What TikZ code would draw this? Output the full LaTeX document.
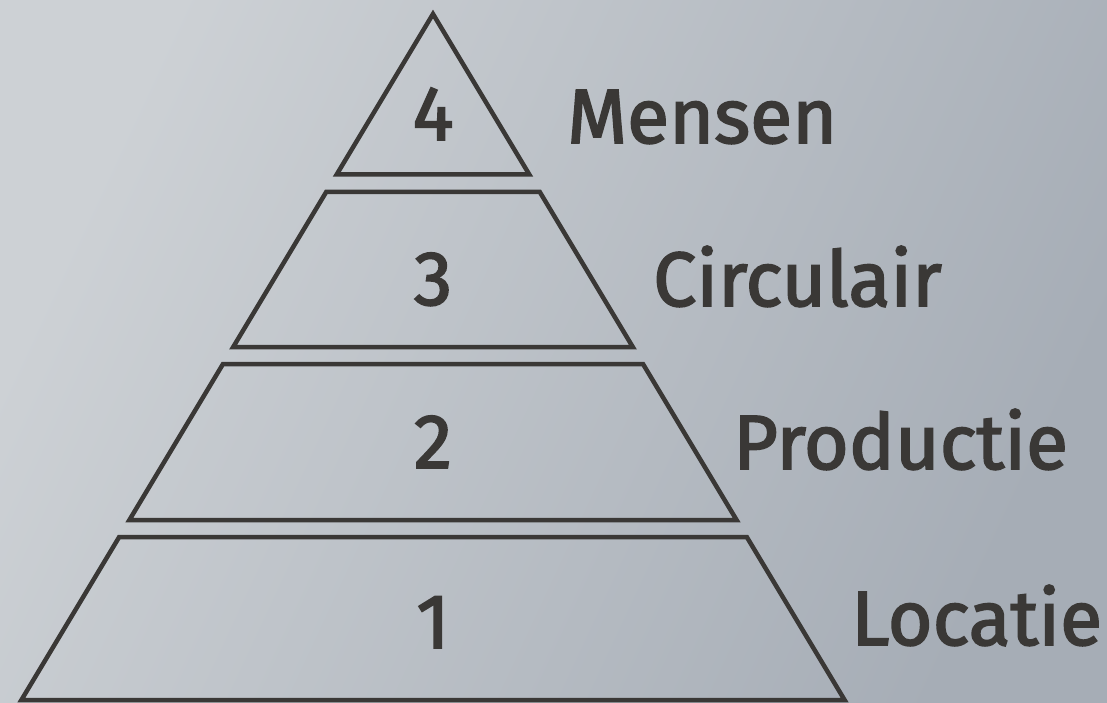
\documentclass[tikz,border=0pt]{standalone}
\usepackage{fontspec}
\setmainfont{Fira Sans}
\newfontfamily\tierfont{Fira Sans}[FakeBold=2.2]
\definecolor{ink}{HTML}{3A3836}
\definecolor{bglight}{HTML}{CDD1D5}
\definecolor{bgdark}{HTML}{A6ADB6}

\begin{document}
\begin{tikzpicture}[
    x=1pt, y=-1pt,
    slice/.style={draw=ink, line width=4.5pt, line join=miter},
    tiernum/.style={anchor=base, text=ink, inner sep=0pt, font=\tierfont\fontsize{77}{80}\selectfont},
    tiername/.style={anchor=base west, text=ink, inner sep=0pt, font=\tierfont\fontsize{77}{80}\selectfont}
]

% Background
\shade[top color=bglight, bottom color=bgdark, shading angle=65] (0,0) rectangle (1107,703);
\useasboundingbox (0,0) rectangle (1107,703);

% Top of the pyramid
\draw[slice] (433,14) -- ({433+0.6*160.5},174.5) -- ({433-0.6*160.5},174.5) -- cycle;

% Lower slices (top/bottom)
\foreach \t/\b in {192/347, 364/520, 537/700}
  \draw[slice] ({433-0.6*(\t-14)},\t) -- ({433+0.6*(\t-14)},\t)
    -- ({433+0.6*(\b-14)},\b) -- ({433-0.6*(\b-14)},\b) -- cycle;

% Numbers
\node[tiernum] (num4) at (433,140) {4};
\node[tiernum] (num3) at (433,305) {3};
\node[tiernum] (num2) at (433,468) {2};
\node[tiernum] (num1) at (433,648) {1};

% Names
\node[tiername] (mensen) at (567,143) {Mensen};
\node[tiername] (circulair) at (653,306) {Circulair};
\node[tiername] (productie) at (733,469) {Productie};
\node[tiername] (locatie) at (851,645) {Locatie};

\end{tikzpicture}
\end{document}
